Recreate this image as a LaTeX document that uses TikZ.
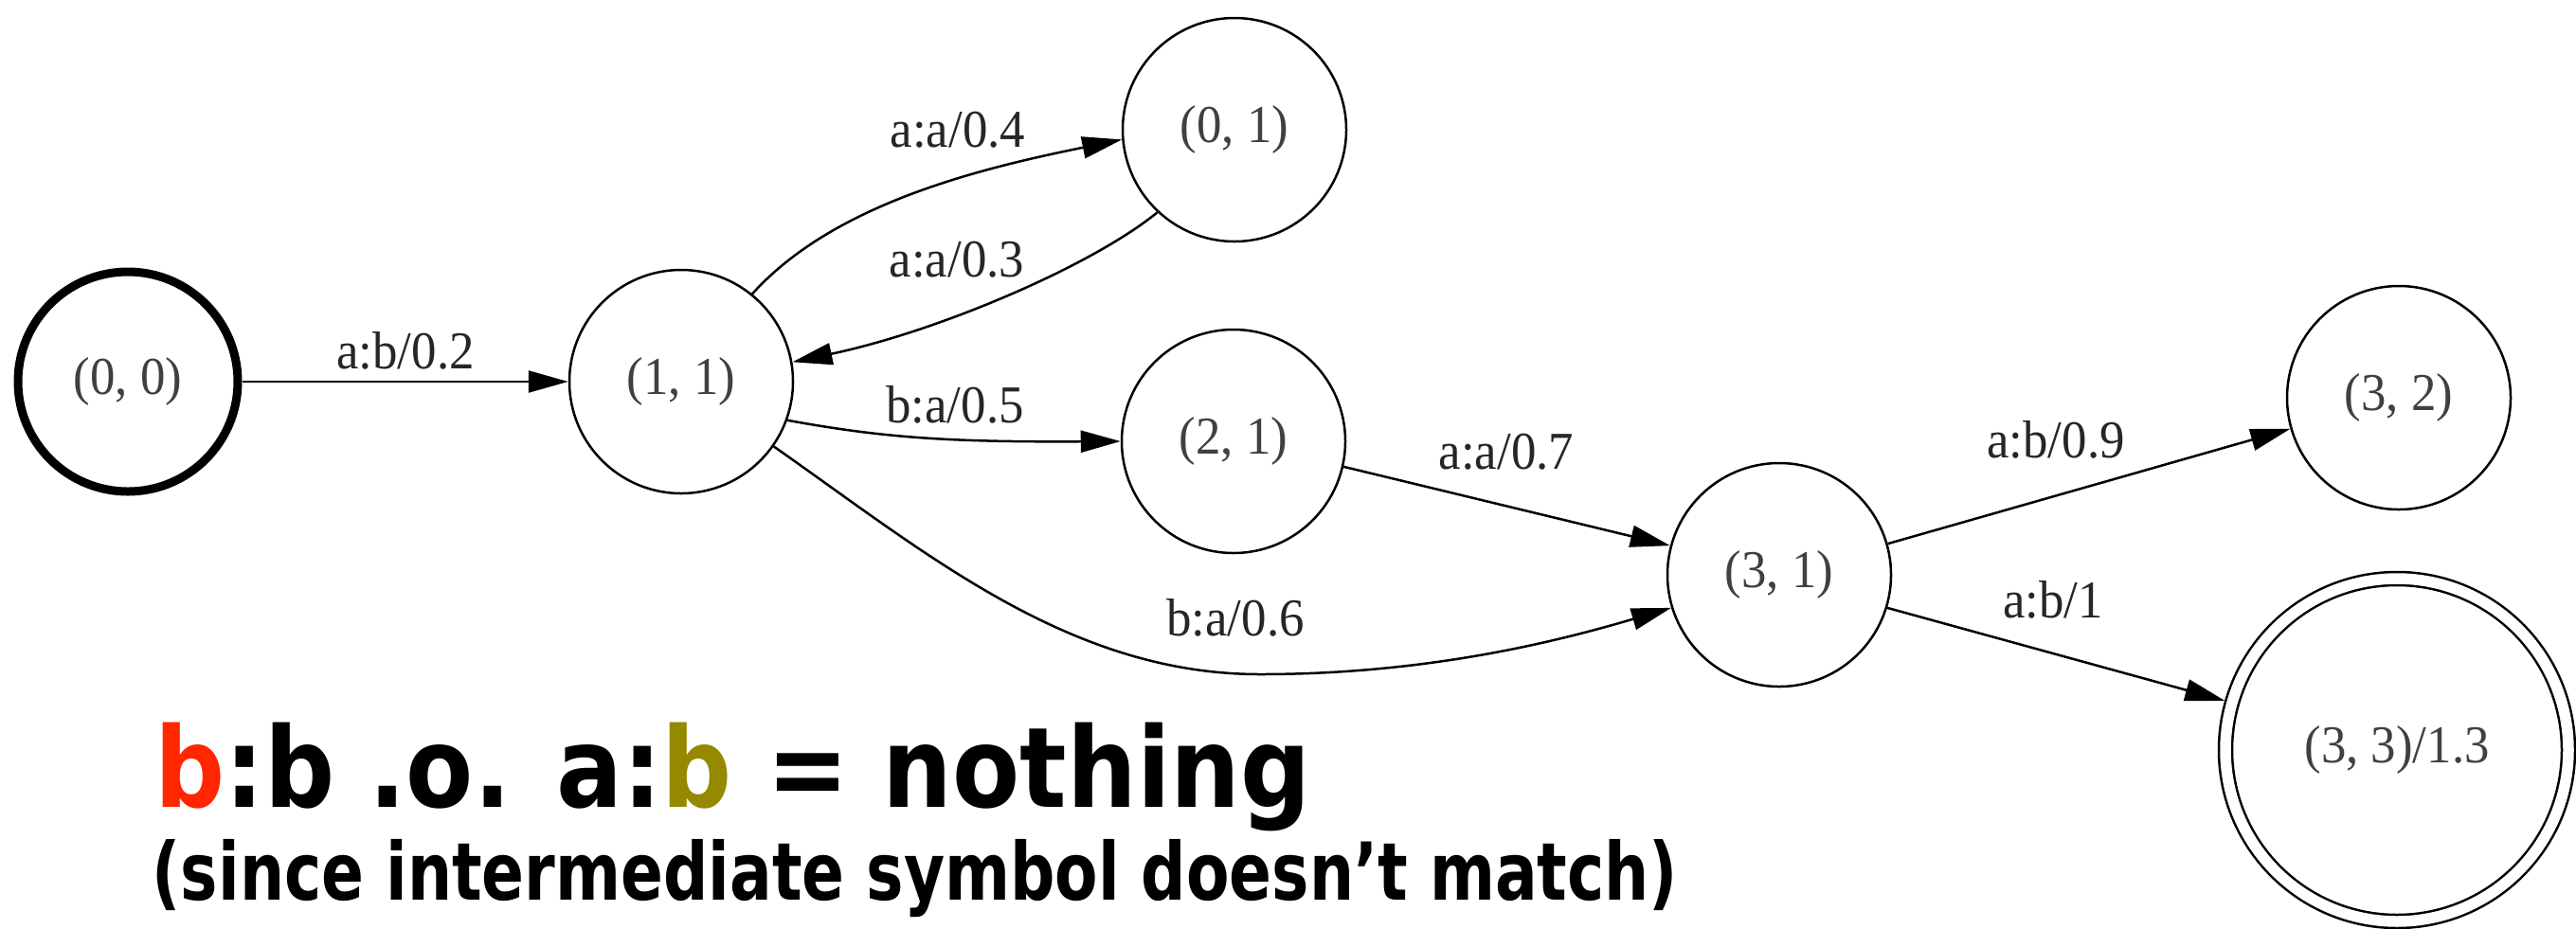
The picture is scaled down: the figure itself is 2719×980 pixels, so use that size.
\documentclass[tikz,border=0pt]{standalone}
\usepackage{fontspec}
\setmainfont{Liberation Serif}
\newfontfamily\verd{DejaVu Sans}
\usetikzlibrary{arrows.meta}
\definecolor{fsmred}{RGB}{255,38,0}
\definecolor{fsmolive}{RGB}{148,137,0}
\newcommand{\narrow}[1]{\scalebox{0.94}[1]{#1}}
\begin{document}
\begin{tikzpicture}[x=0.1mm,y=-0.1mm,
  state/.style={circle,draw,line width=0.25mm,minimum size=23.6mm,inner sep=0pt,
    font=\fontsize{16}{19}\selectfont,text=black!75},
  startstate/.style={state,line width=0.9mm,minimum size=23.2mm},
  finalstate/.style={state,double,double distance=1.15mm,minimum size=36.2mm,outer sep=0.8mm},
  edge/.style={line width=0.25mm,-{Triangle[length=4.2mm,width=2.3mm]}},
  elabel/.style={font=\fontsize{16}{19}\selectfont,text=black!85,inner sep=0pt},
  bigtext/.style={anchor=base west,inner sep=0pt,text=black}]
\useasboundingbox (0,0) rectangle (2719,980);

\node[startstate] (n00) at (135,403) {\narrow{(0, 0)}};
\node[state] (n11) at (719,403) {\narrow{(1, 1)}};
\node[state] (n01) at (1303,137) {\narrow{(0, 1)}};
\node[state] (n21) at (1302,466) {\narrow{(2, 1)}};
\node[state] (n31) at (1878,607) {\narrow{(3, 1)}};
\node[state] (n32) at (2532,420) {\narrow{(3, 2)}};
\node[finalstate] (n33) at (2530,792) {\narrow{(3, 3)/1.3}};

\draw[edge] (n00) -- (n11) node[elabel] (l1) at (428,370) {\narrow{a:b/0.2}};
\draw[edge] (n11.51) .. controls (880,215) and (1034,178) .. (n01.185)
  node[elabel] (l2) at (1011,137) {\narrow{a:a/0.4}};
\draw[edge] (n01.-133) .. controls (1152,281) and (990,350) .. (n11.10)
  node[elabel] (l3) at (1010,274) {\narrow{a:a/0.3}};
\draw[edge] (n11.-20) .. controls (931,462) and (1000,467) .. (n21.west)
  node[elabel] (l4) at (1008,427) {\narrow{b:a/0.5}};
\draw[edge] (n11.-35) .. controls (980,586) and (1130,712) .. (1330,712)
  .. controls (1510,712) and (1648,676) .. (n31.197)
  node[elabel] (l5) at (1304,652) {\narrow{b:a/0.6}};
\draw[edge] (n21.-13) -- (n31.165) node[elabel] (l6) at (1590,477) {\narrow{a:a/0.7}};
\draw[edge] (n31.16) -- (n32.196) node[elabel] (l7) at (2170,464) {\narrow{a:b/0.9}};
\draw[edge] (n31.-17) -- (n33.164) node[elabel] (l8) at (2167,633) {\narrow{a:b/1}};

\node[bigtext,font=\verd\bfseries\fontsize{33.5}{40}\selectfont] (t1) at (163,852)
  {\scalebox{0.88}[1]{{\color{fsmred}b}:b .o. a:{\color{fsmolive}b} = nothing}};
\node[bigtext,font=\verd\bfseries\fontsize{24}{28}\selectfont] (t2) at (160,950)
  {\scalebox{0.785}[1]{(since intermediate symbol doesn’t match)}};
\end{tikzpicture}
\end{document}
